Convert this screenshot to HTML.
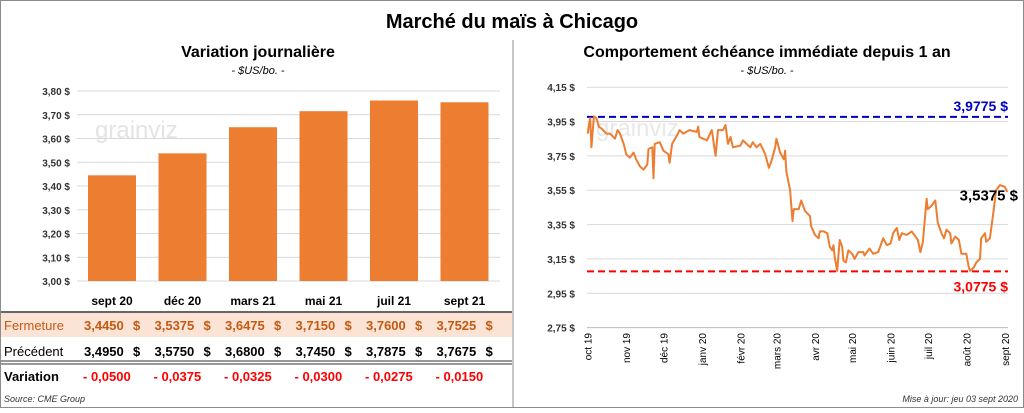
<!DOCTYPE html>
<html><head><meta charset="utf-8"><style>
body{margin:0;background:#fff;font-family:"Liberation Sans",sans-serif}
svg text{font-family:"Liberation Sans",sans-serif}
</style></head><body>
<svg id="c" width="1024" height="408" xmlns="http://www.w3.org/2000/svg">
<rect x="0.5" y="0.5" width="1023" height="407" fill="#fff" stroke="#8c8c8c"/>
<line x1="513" y1="40" x2="513" y2="408" stroke="#8c8c8c"/>
<text x="512" y="28" text-anchor="middle" font-size="20" font-weight="bold">Marché du maïs à Chicago</text>
<text x="258" y="57" text-anchor="middle" font-size="16" font-weight="bold">Variation journalière</text>
<text x="258" y="74" text-anchor="middle" font-size="11" font-style="italic">- $US/bo. -</text>
<text x="767" y="57" text-anchor="middle" font-size="16" font-weight="bold">Comportement échéance immédiate depuis 1 an</text>
<text x="767" y="74" text-anchor="middle" font-size="11" font-style="italic">- $US/bo. -</text>
<text x="95" y="138" font-size="24" fill="#e4e4e4">grainviz</text>
<text x="596" y="136" font-size="24" fill="#e8e8e8">grainviz</text>
<g id="left"></g>
<g id="right"></g>
<g id="table"></g>
<text x="4" y="402" font-size="9" font-style="italic" fill="#333">Source: CME Group</text>
<text x="1018" y="402" text-anchor="end" font-size="9" font-style="italic" fill="#333">Mise à jour: jeu 03 sept 2020</text>
</svg>
<script>
const NS="http://www.w3.org/2000/svg";
const months=["sept 20","déc 20","mars 21","mai 21","juil 21","sept 21"];
const closeVals=[3.4450,3.5375,3.6475,3.7150,3.7600,3.7525];
const prevVals=[3.4950,3.5750,3.6800,3.7450,3.7875,3.7675];
const leftTicks=[3.00,3.10,3.20,3.30,3.40,3.50,3.60,3.70,3.80];
const lineDays=[0,1,2,3,5,7,9,11,15,18,22,24,26,29,31,34,37,39,42,45,48,49,52,53,54,58,61,65,66,68,72,74,77,82,88,89,90,96,100,103,105,109,111,113,115,117,123,125,128,131,133,136,139,143,146,148,151,152,155,158,159,160,163,165,166,170,172,175,179,180,183,186,187,190,193,195,197,198,199,201,203,205,206,208,210,213,215,218,222,223,227,230,234,238,241,244,246,249,251,253,257,261,264,266,268,270,273,274,277,280,282,285,287,289,292,293,296,299,301,305,307,308,311,313,316,317,320,321,324,327,329,332,336,338];
const linePrices=[3.88,3.93,3.97,3.80,3.98,3.97,3.92,3.91,3.88,3.88,3.85,3.90,3.88,3.82,3.76,3.74,3.77,3.73,3.69,3.67,3.70,3.79,3.80,3.62,3.82,3.83,3.78,3.76,3.71,3.82,3.87,3.90,3.88,3.90,3.89,3.92,3.86,3.84,3.90,3.75,3.90,3.90,3.93,3.82,3.86,3.80,3.81,3.84,3.82,3.80,3.83,3.80,3.82,3.76,3.68,3.72,3.80,3.85,3.77,3.73,3.78,3.66,3.55,3.37,3.44,3.44,3.49,3.43,3.40,3.34,3.29,3.27,3.31,3.31,3.30,3.22,3.20,3.23,3.16,3.08,3.26,3.22,3.14,3.13,3.20,3.18,3.15,3.19,3.19,3.17,3.21,3.18,3.19,3.27,3.23,3.24,3.30,3.33,3.26,3.30,3.29,3.31,3.28,3.26,3.19,3.25,3.50,3.44,3.46,3.49,3.36,3.30,3.27,3.32,3.30,3.24,3.28,3.26,3.18,3.18,3.10,3.08,3.10,3.13,3.15,3.27,3.30,3.25,3.27,3.43,3.55,3.58,3.57,3.54];
const rightTicks=[2.75,2.95,3.15,3.35,3.55,3.75,3.95,4.15];
const monthLabels=["oct 19","nov 19","déc 19","janv 20","févr 20","mars 20","avr 20","mai 20","juin 20","juil 20","août 20","sept 20"];
const monthDays=[0,31,61,92,123,152,183,213,244,274,305,336];
const highVal=3.9775, lowVal=3.0775, lastVal=3.5375;

function el(tag,attrs,parent,txt){const e=document.createElementNS(NS,tag);for(const k in attrs)e.setAttribute(k,attrs[k]);if(txt!==undefined)e.textContent=txt;parent.appendChild(e);return e;}
const fmt=(v,d)=>v.toFixed(d).replace('.',',');

const L=document.getElementById('left');
const ly=v=>281-(v-3.0)*237.5;
const bx=i=>77+i*70.5+35;
leftTicks.forEach(t=>{
 const g=el('line',{x1:77,x2:500,y1:ly(t),y2:ly(t),stroke:'#d9d9d9'},L);
 
 const tx=el('text',{x:70,y:ly(t)+4,'text-anchor':'end','font-size':10,'font-weight':'bold',fill:'#333'},L,fmt(t,2)+' $');
 
});
closeVals.forEach((v,i)=>{
 const r=el('rect',{x:bx(i)-24,y:ly(v),width:48,height:ly(3.0)-ly(v),fill:'#ed7d31'},L);
 
});
const T=document.getElementById('table');
const bg=el('rect',{x:1,y:313,width:511,height:24,fill:'#fbe3d6'},T);

[[1,312,1.5],[1,361,1],[1,364,1]].forEach(a=>{const l=el('line',{x1:a[0],x2:512,y1:a[1],y2:a[1],stroke:'#333','stroke-width':a[2]},T);});
const rows=[["Fermeture",330,'#c55a11'],["Précédent",356,'#000'],["Variation",381,'#000']];
rows.forEach((r,k)=>{const t=el('text',{x:4,y:r[1],'font-size':13,fill:r[2],'font-weight':k==2?'bold':'normal'},T,r[0]);});
months.forEach((m,i)=>{
 const cx=bx(i);
 const h=el('text',{x:cx,y:305,'text-anchor':'middle','font-size':12,'font-weight':'bold'},T,m);
 
 const a=el('text',{x:cx-28,y:330,'font-size':13,'font-weight':'bold',fill:'#c55a11'},T,fmt(closeVals[i],4));
 
 const a2=el('text',{x:cx+21,y:330,'font-size':13,'font-weight':'bold',fill:'#c55a11'},T,'$');
 
 const b=el('text',{x:cx-28,y:356,'font-size':13,'font-weight':'bold'},T,fmt(prevVals[i],4));
 
 const b2=el('text',{x:cx+21,y:356,'font-size':13,'font-weight':'bold'},T,'$');
 
 const d=closeVals[i]-prevVals[i];
 const c=el('text',{x:cx-29,y:381,'font-size':13,'font-weight':'bold',fill:'#ff0000'},T,(d<0?'- ':'+ ')+fmt(Math.abs(d),4));
 
});
const R=document.getElementById('right');
const rx=d=>587.7+d*(1007.3-587.7)/338;
const ry=v=>327.6-(v-2.75)*171.7;
rightTicks.forEach(t=>{
 const g=el('line',{x1:587,x2:1008,y1:ry(t),y2:ry(t),stroke:'#d9d9d9'},R);
 
 const tx=el('text',{x:575,y:ry(t)+4,'text-anchor':'end','font-size':10,'font-weight':'bold',fill:'#333'},R,fmt(t,2)+' $');
 
});
const ax=el('line',{x1:587,x2:1008,y1:ry(2.75),y2:ry(2.75),stroke:'#bfbfbf'},R);

monthLabels.forEach((m,i)=>{
 const x=rx(monthDays[i])+4;
 const t=el('text',{x:0,y:0,transform:`translate(${x},333) rotate(-90)`,'text-anchor':'end','font-size':10},R,m);
 
});
const hl=el('line',{x1:587,x2:1008,y1:ry(highVal),y2:ry(highVal),stroke:'#0000c0','stroke-width':2,'stroke-dasharray':'7,4'},R);

const ll=el('line',{x1:587,x2:1008,y1:ry(lowVal),y2:ry(lowVal),stroke:'#ff0000','stroke-width':2,'stroke-dasharray':'7,4'},R);

const pts=lineDays.map((d,i)=>rx(d).toFixed(1)+','+ry(linePrices[i]).toFixed(1)).join(' ');
const pl=el('polyline',{points:pts,fill:'none',stroke:'#ed7d31','stroke-width':2,'stroke-linejoin':'round'},R);

const ht=el('text',{x:1008,y:ry(highVal)-6,'text-anchor':'end','font-size':14,'font-weight':'bold',fill:'#0000c0'},R,fmt(highVal,4)+' $');

const lt=el('text',{x:1008,y:ry(lowVal)+20,'text-anchor':'end','font-size':14,'font-weight':'bold',fill:'#ff0000'},R,fmt(lowVal,4)+' $');

const ct=el('text',{x:1018,y:ry(lastVal)+8,'text-anchor':'end','font-size':15,'font-weight':'bold'},R,fmt(lastVal,4)+' $');

</script>
</body></html>
